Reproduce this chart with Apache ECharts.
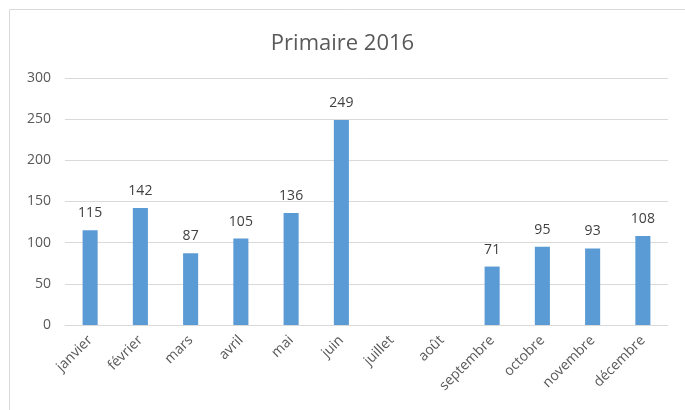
<!DOCTYPE html>
<html><head><meta charset="utf-8">
<script src="https://cdn.jsdelivr.net/npm/echarts@6/dist/echarts.min.js"></script>
<style>html,body{margin:0;padding:0;background:#fff}#c{width:685px;height:410px}</style>
</head><body><div id="c"></div>
<script>
const titleText = 'Primaire 2016';
const categories = ['janvier','février','mars','avril','mai','juin','juillet','août','septembre','octobre','novembre','décembre'];
const values = [115,142,87,105,136,249,null,null,71,95,93,108];
const yTicks = {min:0, max:300, interval:50};

const chart = echarts.init(document.getElementById('c'));
const font = '"Open Sans", "Noto Sans", sans-serif';
chart.setOption({
  animation:false,
  backgroundColor:'#fff',
  title:{text:titleText,left:'center',top:28,textStyle:{fontFamily:font,fontSize:22,fontWeight:'normal',color:'#595959'}},
  graphic:[{type:'rect',shape:{x:9.5,y:9.5,width:690,height:420},style:{fill:'none',stroke:'#d9d9d9',lineWidth:1},silent:true}],
  grid:{left:65,right:17,top:78,bottom:85},
  xAxis:{type:'category',data:categories,
    axisLine:{lineStyle:{color:'#d9d9d9'}},axisTick:{show:false},
    axisLabel:{rotate:45,interval:0,color:'#595959',fontFamily:font,fontSize:14,margin:13}},
  yAxis:{type:'value',min:yTicks.min,max:yTicks.max,interval:yTicks.interval,
    axisLine:{show:false},axisTick:{show:false},
    splitLine:{lineStyle:{color:'#d9d9d9'}},
    axisLabel:{color:'#595959',fontFamily:font,fontSize:14,margin:14}},
  series:[{type:'bar',data:values,barWidth:'30%',itemStyle:{color:'#5b9bd5'},
    label:{show:true,position:'top',distance:10,color:'#404040',fontFamily:font,fontSize:14}}]
});
</script></body></html>
